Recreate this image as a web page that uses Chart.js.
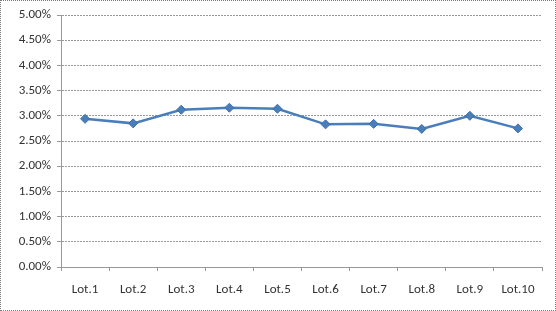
<!DOCTYPE html>
<html lang="en">
<head>
<meta charset="UTF-8"/>
<title>Lot rates</title>
<style>
    html, body {
        margin: 0;
        padding: 0;
        background: #fff;
        overflow: hidden;
    }
    .frame {
        position: absolute;
        left: 0;
        top: 0;
        width: 554px;
        height: 309px;
        border: 1px dotted #777;
    }
    canvas {
        position: absolute;
        left: 0;
        top: 0;
    }
</style>
</head>
<body>
<div class="frame"></div>
<canvas id="lotChart" width="556" height="311"></canvas>

<script src="https://cdn.jsdelivr.net/npm/chart.js"></script>
<script>
const lots = ['Lot.1', 'Lot.2', 'Lot.3', 'Lot.4', 'Lot.5', 'Lot.6', 'Lot.7', 'Lot.8', 'Lot.9', 'Lot.10'];
const rates = [0.0294, 0.0285, 0.0312, 0.0316, 0.0314, 0.0283, 0.0284, 0.0274, 0.0300, 0.0275];
const yMin = 0;
const yMax = 0.05;
const yStep = 0.005;

const blue = '#4a7ebb';
const labelFont = { family: 'Carlito, "Open Sans", "Liberation Sans", sans-serif', size: 13 };

new Chart(document.getElementById('lotChart').getContext('2d'), {
    type: 'line',
    data: {
        labels: lots,
        datasets: [{
            data: rates,
            borderColor: blue,
            backgroundColor: blue,
            borderWidth: 2.5,
            pointStyle: 'rectRot',
            pointRadius: 4.5,
            pointBorderColor: '#3d6fab',
            pointBorderWidth: 1,
            tension: 0
        }]
    },
    options: {
        responsive: false,
        animation: false,
        layout: { padding: { left: 0, right: 14, top: 15, bottom: 0 } },
        plugins: {
            legend: { display: false },
            tooltip: { enabled: false }
        },
        scales: {
            x: {
                offset: true,
                afterFit: axis => { axis.height = 44; },
                grid: {
                    offset: true,
                    drawOnChartArea: false,
                    drawTicks: true,
                    tickLength: 4,
                    color: '#999'
                },
                border: { color: '#999', dash: [1, 1] },
                ticks: {
                    color: '#333',
                    font: labelFont,
                    padding: 11,
                    maxRotation: 0
                }
            },
            y: {
                min: yMin,
                max: yMax,
                afterFit: axis => { axis.width = 61; },
                grid: {
                    color: '#999',
                    tickLength: 4,
                    drawTicks: true
                },
                border: { color: '#999', dash: [2, 1] },
                ticks: {
                    stepSize: yStep,
                    color: '#333',
                    font: labelFont,
                    padding: 6,
                    callback: v => (v * 100).toFixed(2) + '%'
                }
            }
        }
    }
});
</script>
</body>
</html>
